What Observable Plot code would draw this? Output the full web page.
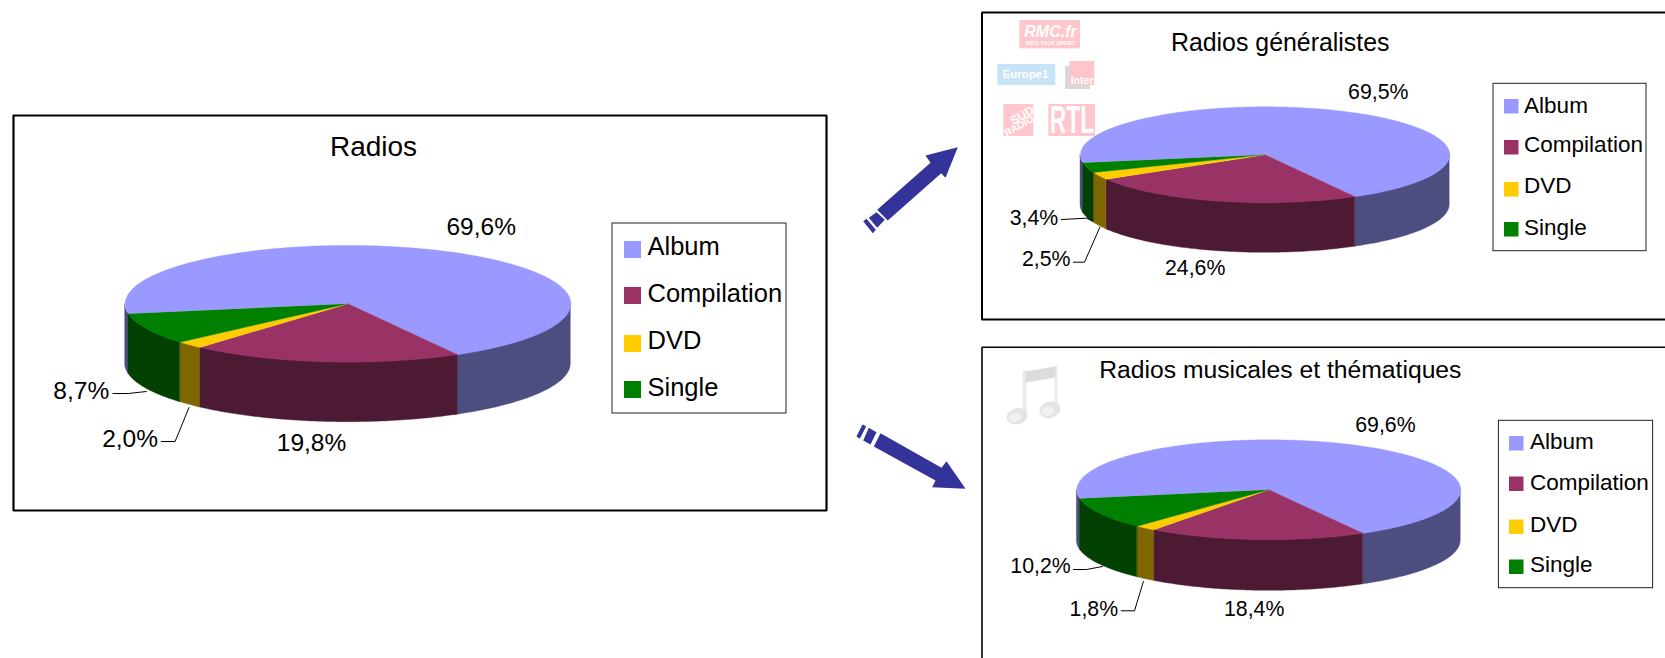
<!DOCTYPE html>
<html lang="fr">
<head>
<meta charset="utf-8">
<title>Radios : répartition des passages par format</title>
<script src="https://cdn.jsdelivr.net/npm/d3@7"></script>
<script src="https://cdn.jsdelivr.net/npm/@observablehq/plot@0.6"></script>
<style>
  html, body { margin: 0; padding: 0; background: #fff; overflow: hidden; }
  svg { display: block; }
</style>
</head>
<body>
<div id="chart"></div>
<script>
// Series: share of each format, in percent
const categories = ["Album", "Compilation", "DVD", "Single"];
const radiosValues = [69.6, 19.8, 2.0, 8.7];
const generalistesValues = [69.5, 24.6, 2.5, 3.4];
const musicalesValues = [69.6, 18.4, 1.8, 10.2];

// Top faces use the full colour, the rim of each slice a half-bright one
const topColors = ["#9999FF", "#993366", "#FFCC00", "#008000"];
const sideColors = ["#4D4D80", "#4D1A33", "#806600", "#004000"];

const FONT = "'Liberation Sans', Arial, sans-serif";
const WIDTH = 1665, HEIGHT = 658;

// Placement of the three panels on the page
const panels = [
  {
    title: "Radios", values: radiosValues,
    titleAt: [373, 147], titleSize: 28,
    cx: 347.5, cy: 303.3, rx: 222.8, ry: 58.4, depth: 60, startDeg: 260.2,
    labelSize: 24.5,
    labelAt: [[480.7, 227, "middle"], [311, 443, "middle"], [157.5, 439, "end"], [108.7, 391, "end"]],
    leaders: [
      [[160.7, 441], [174.6, 441], [188.5, 407]],
      [[112.5, 393], [128, 393], [145.7, 391]]
    ],
    legendBox: [612, 223, 786, 413], swatchX: 624, swatchSize: 17,
    swatchY: [241, 287, 335, 381], legendTextX: 647, legendSize: 25.5,
    legendTextY: [246, 293.5, 340.5, 387]
  },
  {
    title: "Radios généralistes", values: generalistesValues,
    titleAt: [1279.7, 42.6], titleSize: 24.9,
    cx: 1264.6, cy: 154.3, rx: 184.6, ry: 48, depth: 50, startDeg: 260.6,
    labelSize: 21.3,
    labelAt: [[1377.8, 91.7, "middle"], [1194.7, 268, "middle"], [1070, 259, "end"], [1057.8, 217.7, "end"]],
    leaders: [
      [[1072.8, 261.7], [1084, 261.7], [1099.4, 226.7]],
      [[1060.9, 219], [1086, 217.7], [1091, 220]]
    ],
    legendBox: [1493, 83.3, 1646, 250.7], swatchX: 1504, swatchSize: 14.5,
    swatchY: [99, 140, 182, 222], legendTextX: 1523.6, legendSize: 22.5,
    legendTextY: [105, 144.5, 185, 227.5]
  },
  {
    title: "Radios musicales et thématiques", values: musicalesValues,
    titleAt: [1279.8, 369.5], titleSize: 24.7,
    cx: 1268.3, cy: 489.3, rx: 191.9, ry: 50, depth: 51, startDeg: 260,
    labelSize: 21.3,
    labelAt: [[1384.9, 424.3, "middle"], [1253.7, 608.3, "middle"], [1117.6, 608.3, "end"], [1070.2, 566, "end"]],
    leaders: [
      [[1120.7, 610.3], [1134, 610.3], [1142.9, 581]],
      [[1072.8, 569], [1086, 569], [1102, 566]]
    ],
    legendBox: [1498.4, 420.3, 1652.6, 587.7], swatchX: 1509, swatchSize: 14.5,
    swatchY: [436, 476.5, 519.5, 559.5], legendTextX: 1529.4, legendSize: 22.5,
    legendTextY: [441, 482.5, 524.5, 564]
  }
];

const RAD = Math.PI / 180;
const percent = v => v.toFixed(1).replace(".", ",") + "%";

// Walk an angle range in small steps, always keeping both ends
function sweep(a0, a1) {
  const out = [];
  for (let a = a0; a < a1; a += RAD) out.push(a);
  out.push(a1);
  return out;
}

const topFaces = [], sideFaces = [], labels = [], swatches = [], legendTexts = [], titles = [], leaderPts = [], boxes = [];

panels.forEach((p, pi) => {
  const arcs = d3.pie().sort(null)
    .startAngle(p.startDeg * RAD)
    .endAngle(p.startDeg * RAD + 2 * Math.PI)(p.values);
  titles.push({text: p.title, x: p.titleAt[0], y: p.titleAt[1], size: p.titleSize});
  boxes.push({x1: p.legendBox[0], y1: p.legendBox[1], x2: p.legendBox[2], y2: p.legendBox[3]});

  arcs.forEach((arc, i) => {
    const cat = categories[i];
    const at = a => ({x: p.cx + p.rx * Math.sin(a), y: p.cy - p.ry * Math.cos(a)});

    // Top face: from the centre out along the rim and back
    const id = `${pi}-${i}`;
    topFaces.push({id, face: cat, x: p.cx, y: p.cy});
    for (const a of sweep(arc.startAngle, arc.endAngle)) topFaces.push({id, face: cat, ...at(a)});

    // Rim: only the part of the arc that faces the viewer
    for (const k of [0, 1]) {
      const lo = Math.max(arc.startAngle, (90 + 360 * k) * RAD);
      const hi = Math.min(arc.endAngle, (270 + 360 * k) * RAD);
      if (lo < hi) {
        for (const a of sweep(lo, hi)) {
          const pt = at(a);
          sideFaces.push({id: `${id}-${k}`, face: cat + " (tranche)", x: pt.x, y: pt.y, yb: pt.y + p.depth});
        }
      }
    }

    const [lx, ly, anchor] = p.labelAt[i];
    labels.push({text: percent(p.values[i]), x: lx, y: ly, anchor, size: p.labelSize});
    swatches.push({face: cat, x1: p.swatchX, x2: p.swatchX + p.swatchSize, y1: p.swatchY[i], y2: p.swatchY[i] + p.swatchSize});
    legendTexts.push({text: cat, x: p.legendTextX, y: p.legendTextY[i], size: p.legendSize});
  });

  p.leaders.forEach((line, li) => line.forEach(([x, y]) => leaderPts.push({id: `${pi}-${li}`, x, y})));
});

// Panel frames; the two on the right run off the page edge
const frames = [
  {id: "a", w: 2.2, pts: [[13, 115], [826, 115], [826, 510], [13, 510], [13, 115]]},
  {id: "b", w: 2, pts: [[WIDTH, 12], [981.5, 12], [981.5, 319], [WIDTH, 319]]},
  {id: "c", w: 1.6, pts: [[WIDTH, 346.7], [981.5, 346.7], [981.5, HEIGHT]]}
];
const framePts = frames.flatMap(f => f.pts.map(([x, y]) => ({id: f.id, w: f.w, x, y})));

// Shapes helper: a list of vertices becomes one filled outline
const polygon = (id, fill, pts) => pts.map(([x, y]) => ({id, fill, x, y}));
const ellipse = (id, fill, cx, cy, rx, ry, tilt) =>
  sweep(0, 2 * Math.PI).map(a => ({
    id, fill,
    x: cx + rx * Math.cos(a) * Math.cos(tilt) - ry * Math.sin(a) * Math.sin(tilt),
    y: cy + rx * Math.cos(a) * Math.sin(tilt) + ry * Math.sin(a) * Math.cos(tilt)
  }));

const ARROW = "#333399";
const arrows = [
  ...polygon("up", ARROW, [[957.3, 146.7], [925, 155], [930, 162.3], [876.7, 209.3], [887.3, 220], [940.7, 172.7], [945, 177.3]]),
  ...polygon("up2", ARROW, [[868.3, 217.3], [876, 211.7], [884.3, 219.3], [876.7, 227.3]]),
  ...polygon("up3", ARROW, [[862.7, 220.7], [866, 218.3], [875.3, 229.3], [872.3, 232.7]]),
  ...polygon("down", ARROW, [[965, 488.3], [946, 460.7], [941, 467.3], [880, 432.7], [873.3, 446], [935, 480], [931.7, 486.7]]),
  ...polygon("down2", ARROW, [[868.3, 427.3], [876, 431.7], [870, 444], [862.7, 440]]),
  ...polygon("down3", ARROW, [[862, 424], [865.7, 425.7], [859.3, 438.3], [856, 436]])
];

// Pale station badges beside the general-interest chart
const PINK = "#FFC4C8";
const badges = [
  {x1: 1019.3, y1: 20, x2: 1080, y2: 48.3, fill: PINK},
  {x1: 997.3, y1: 64, x2: 1055.3, y2: 85, fill: "#C4E2F6"},
  {x1: 1065, y1: 66, x2: 1090, y2: 89, fill: "#D6D6D6"},
  {x1: 1069.3, y1: 61, x2: 1094.3, y2: 85, fill: PINK},
  {x1: 1003.3, y1: 104, x2: 1033.3, y2: 136, fill: PINK},
  {x1: 1048.3, y1: 104, x2: 1095, y2: 136, fill: PINK}
];
const badgeTexts = [
  {text: "INFO TALK SPORT", x: 1050, y: 43, size: 5.5, rotate: 0},
  {text: "Europe1", x: 1025, y: 74, size: 11.5, rotate: 0},
  {text: "Inter", x: 1081.5, y: 80, size: 10.5, rotate: 0},
  {text: "SUD", x: 1021.7, y: 115, size: 12, rotate: -30},
  {text: "RADIO", x: 1018.5, y: 125.5, size: 10, rotate: -30}
];
const rmcBadge = [{text: "RMC.fr", x: 1050, y: 31.5, size: 16}];
const rtlBadge = [{text: "RTL", x: 1071.5, y: 120, size: 38}];

// Beamed quavers, in soft greys
const note = [
  ...polygon("stemL", "#EBEBEB", [[1022, 370], [1026, 370], [1026, 414], [1022, 416]]),
  ...polygon("stemR", "#EBEBEB", [[1054, 365], [1057, 365], [1057, 408], [1054, 410]]),
  ...polygon("beam", "#DCDCDC", [[1025, 371], [1055, 366], [1055, 377], [1025, 382]]),
  ...ellipse("headL", "#E4E4E4", 1016.7, 415.7, 10.5, 8, -0.25),
  ...ellipse("headR", "#E4E4E4", 1049.3, 409.3, 10.5, 8, -0.25),
  ...ellipse("glowL", "#F0F0F0", 1014.7, 417, 6.5, 4.5, -0.25),
  ...ellipse("glowR", "#F0F0F0", 1047.3, 410.6, 6.5, 4.5, -0.25)
];

const plot = Plot.plot({
  width: WIDTH,
  height: HEIGHT,
  margin: 0,
  style: {background: "#fff", fontFamily: FONT, color: "#000"},
  x: {domain: [0, WIDTH], range: [0, WIDTH], axis: null},
  y: {domain: [0, HEIGHT], range: [0, HEIGHT], axis: null},
  color: {
    domain: [...categories, ...categories.map(c => c + " (tranche)")],
    range: [...topColors, ...sideColors]
  },
  marks: [
    // Frames
    ...frames.map(f => Plot.line(framePts.filter(d => d.id === f.id), {
      x: "x", y: "y", stroke: "#000", strokeWidth: f.w, strokeLinejoin: "miter"
    })),

    // Decorations
    Plot.rect(badges, {x1: "x1", x2: "x2", y1: "y1", y2: "y2", fill: d => d.fill, opacity: 0.95}),
    Plot.text(badgeTexts, {x: "x", y: "y", text: "text", fontSize: "size", fontWeight: "bold", fill: "#fff", rotate: "rotate"}),
    Plot.text(rmcBadge, {x: "x", y: "y", text: "text", fontSize: "size", fontWeight: "bold", fontStyle: "italic", fill: "#fff"}),
    Plot.text(rtlBadge, {x: "x", y: "y", text: "text", fontSize: "size", fontWeight: "bold", fill: "#fff"}),
    Plot.line(note, {x: "x", y: "y", z: "id", fill: d => d.fill, stroke: "none"}),
    Plot.line(arrows, {x: "x", y: "y", z: "id", fill: d => d.fill, stroke: "none"}),

    // Pie bodies
    Plot.area(sideFaces, {x1: "x", x2: "x", y1: "y", y2: "yb", z: "id", fill: "face", stroke: "face", strokeWidth: 0.4}),
    Plot.line(topFaces, {x: "x", y: "y", z: "id", fill: "face", stroke: "face", strokeWidth: 0.4}),

    // Leader lines and value labels
    Plot.line(leaderPts, {x: "x", y: "y", z: "id", stroke: "#000", strokeWidth: 1}),
    Plot.text(labels.filter(d => d.anchor === "middle"), {x: "x", y: "y", text: "text", fontSize: "size", fill: "#000"}),
    Plot.text(labels.filter(d => d.anchor === "end"), {x: "x", y: "y", text: "text", fontSize: "size", fill: "#000", textAnchor: "end"}),

    // Titles
    Plot.text(titles, {x: "x", y: "y", text: "text", fontSize: "size", fill: "#000"}),

    // Legends
    Plot.rect(boxes, {x1: "x1", x2: "x2", y1: "y1", y2: "y2", fill: "#fff", stroke: "#222", strokeWidth: 1}),
    Plot.rect(swatches, {x1: "x1", x2: "x2", y1: "y1", y2: "y2", fill: "face"}),
    Plot.text(legendTexts, {x: "x", y: "y", text: "text", fontSize: "size", fill: "#000", textAnchor: "start"})
  ]
});

// The RTL wordmark is a condensed one: squeeze it to fit its badge
plot.querySelectorAll("text").forEach(t => {
  if (t.textContent === "RTL") {
    t.setAttribute("transform", `${t.getAttribute("transform") || ""} scale(0.6,1)`);
  }
});

document.getElementById("chart").appendChild(plot);
</script>
</body>
</html>
